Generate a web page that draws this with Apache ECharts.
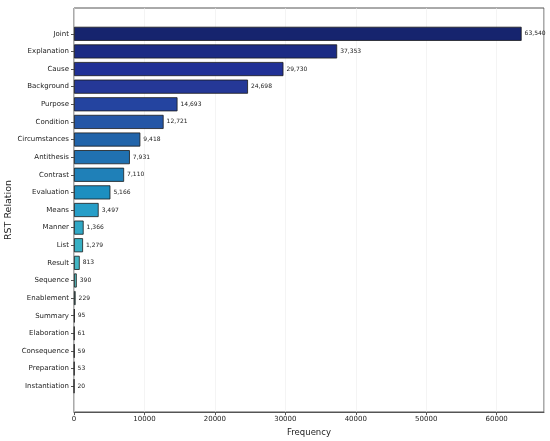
<!DOCTYPE html>
<html>
<head>
<meta charset="utf-8">
<script src="https://cdn.jsdelivr.net/npm/echarts@6/dist/echarts.min.js"></script>
<style>
  html, body { margin: 0; padding: 0; background: #fff; }
  #chart { width: 550px; height: 441px; }
</style>
</head>
<body>
<div id="chart"></div>
<script>
// RST relation counts, largest first
var relations = ['Joint', 'Explanation', 'Cause', 'Background', 'Purpose', 'Condition',
  'Circumstances', 'Antithesis', 'Contrast', 'Evaluation', 'Means', 'Manner', 'List',
  'Result', 'Sequence', 'Enablement', 'Summary', 'Elaboration', 'Consequence',
  'Preparation', 'Instantiation'];
var counts = [63540, 37353, 29730, 24698, 14693, 12721, 9418, 7931, 7110, 5166, 3497,
  1366, 1279, 813, 390, 229, 95, 61, 59, 53, 20];
var barColors = ['#16246e', '#1b2b84', '#213196', '#253897', '#2444a0', '#2456a6',
  '#2164aa', '#2071b1', '#1f80b8', '#1d8fc0', '#269ec8', '#30a8c6', '#38b0c4',
  '#42b6c4', '#52bcc0', '#62c2bd', '#72c8bb', '#82ceba', '#92d4b8', '#a2dab6', '#b2e0b5'];
var xTicks = [0, 10000, 20000, 30000, 40000, 50000, 60000];

var xMax = 66717;
var chart = echarts.init(document.getElementById('chart'));

var option = {
  animation: false,
  grid: [
    // frame with x axis
    { left: 74, right: 6, top: 8, bottom: 29, show: true, borderColor: '#555', borderWidth: 1,
      containLabel: false, outerBoundsMode: 'none' },
    // bar area, inset like matplotlib margins
    { left: 74, right: 6, top: 25, bottom: 46, containLabel: false, outerBoundsMode: 'none' }
  ],
  xAxis: [
    {
      gridIndex: 0, type: 'value', min: 0, max: xMax, interval: 10000,
      name: 'Frequency', nameLocation: 'middle', nameGap: 16,
      nameTextStyle: { fontFamily: 'DejaVu Sans', fontSize: 8.5, color: '#222' },
      axisLine: { show: true, lineStyle: { color: '#555' } },
      axisTick: { show: true, length: 3, lineStyle: { color: '#555' } },
      axisLabel: {
        fontFamily: 'DejaVu Sans', fontSize: 7, color: '#222', margin: 4,
        showMaxLabel: false,
        formatter: function (v) { return xTicks.indexOf(v) >= 0 ? String(v) : ''; }
      },
      splitLine: { show: true, lineStyle: { color: '#ececec', width: 0.6 } }
    },
    { gridIndex: 1, type: 'value', min: 0, max: xMax, show: false }
  ],
  yAxis: [
    {
      gridIndex: 0, type: 'value', min: 0, max: 1, show: true,
      name: 'RST Relation', nameLocation: 'middle', nameGap: 60, nameRotate: 90,
      nameTextStyle: { fontFamily: 'DejaVu Sans', fontSize: 9.5, color: '#222' },
      axisLine: { show: false }, axisTick: { show: false },
      axisLabel: { show: false }, splitLine: { show: false }
    },
    {
      gridIndex: 1, type: 'category', data: relations, inverse: true,
      axisLine: { show: false },
      axisTick: { show: true, alignWithLabel: true, length: 3, lineStyle: { color: '#555' } },
      axisLabel: { fontFamily: 'DejaVu Sans', fontSize: 7, color: '#222', margin: 5 }
    }
  ],
  series: [{
    type: 'bar',
    xAxisIndex: 1, yAxisIndex: 1,
    barWidth: '80%',
    data: counts.map(function (v, i) {
      return { value: v, itemStyle: { color: barColors[i] } };
    }),
    itemStyle: { borderColor: '#1a1a1a', borderWidth: 0.8 },
    label: {
      show: true, position: 'right', distance: 3,
      fontFamily: 'DejaVu Sans', fontSize: 6, color: '#222',
      formatter: function (p) { return p.value.toLocaleString('en-US'); }
    }
  }]
};

chart.setOption(option);
</script>
</body>
</html>
